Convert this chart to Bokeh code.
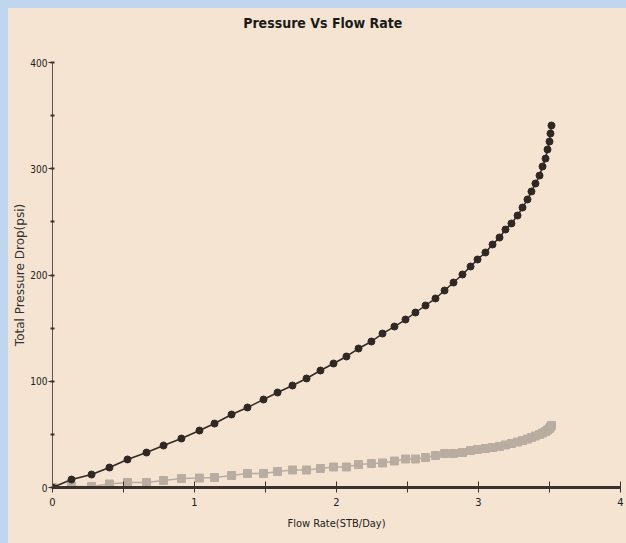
from bokeh.plotting import figure
from bokeh.layouts import column
from bokeh.embed import file_html
from bokeh.resources import INLINE
from bokeh.core.properties import value
from bokeh.models import SingleIntervalTicker, FixedTicker, ColumnDataSource

# Flow rate (STB/Day)
flow_rate = [0.0, 0.134, 0.275, 0.401, 0.528, 0.662, 0.782, 0.908, 1.035, 1.141,
             1.261, 1.373, 1.486, 1.585, 1.690, 1.789, 1.887, 1.979, 2.070, 2.155,
             2.246, 2.324, 2.408, 2.486, 2.556, 2.627, 2.697, 2.761, 2.824, 2.887,
             2.944, 2.993, 3.049, 3.099, 3.148, 3.190, 3.232, 3.275, 3.310, 3.345,
             3.373, 3.401, 3.430, 3.451, 3.472, 3.486, 3.500, 3.507, 3.514]
# Total pressure drop (psi), dark series
total_dp = [0.0, 7.5, 12.2, 18.8, 26.4, 32.9, 39.5, 46.1, 53.6, 60.2,
            68.7, 75.3, 82.8, 89.4, 96.0, 102.6, 110.1, 116.7, 123.3, 130.8,
            137.4, 144.9, 151.5, 158.1, 164.7, 171.3, 177.9, 185.4, 192.9, 200.5,
            208.0, 214.6, 221.2, 228.7, 235.3, 242.8, 248.5, 256.0, 263.5, 271.1,
            278.6, 286.1, 293.6, 302.1, 309.6, 318.1, 325.6, 333.2, 340.7]
# Second (light) series
light_dp = [0.0, 1.0, 1.0, 3.3, 4.7, 4.7, 6.6, 8.5, 8.9, 9.4,
            11.3, 13.2, 13.2, 15.1, 16.5, 16.5, 17.9, 19.3, 19.3, 21.6,
            22.6, 23.1, 24.9, 26.8, 26.8, 28.2, 30.1, 32.0, 32.0, 32.9,
            34.8, 35.8, 36.7, 37.6, 38.6, 40.0, 41.4, 42.8, 44.2, 45.6,
            47.1, 48.5, 49.9, 51.3, 52.7, 54.1, 55.5, 56.9, 58.4]

x_ticks = [0, 0.5, 1, 1.5, 2, 2.5, 3, 3.5, 4]
x_labels = {0: "0", 0.5: "", 1: "1", 1.5: "", 2: "2", 2.5: "", 3: "3", 3.5: "", 4: "4"}
title_text = ["Pressure Vs Flow Rate"]
x_title = "Flow Rate(STB/Day)"
y_title = "Total Pressure Drop(psi)"

BG = "#f5e4d1"
DARK = "#2f2824"
LIGHT = "#b9ada1"
NARROW = "'DejaVu Sans Condensed', 'Liberation Sans', sans-serif"

W = 618
TH = 44

# ---- title strip ----
t = figure(width=W, height=TH, x_range=(0, W), y_range=(0, TH),
           output_backend="svg", toolbar_location=None,
           x_axis_location=None, y_axis_location=None, min_border=0)
t.background_fill_color = BG
t.border_fill_color = BG
t.outline_line_color = None
t.grid.visible = False
t.text(x=[294], y=[TH - 14], text=title_text,
       text_align="center", text_baseline="middle",
       text_font=value(NARROW), text_font_style="bold", text_font_size="14px",
       text_color="#1a1a1a")

# ---- main chart ----
src = ColumnDataSource(dict(x=flow_rate, a=total_dp, b=light_dp))

p = figure(frame_width=568, frame_height=425,
           min_border_left=44, min_border_right=6, min_border_top=10, min_border_bottom=56,
           x_range=(0, 4), y_range=(0, 400),
           output_backend="svg", toolbar_location=None)

p.background_fill_color = BG
p.border_fill_color = BG
p.outline_line_color = None
p.grid.visible = False

xa = p.xaxis[0]
xa.ticker = FixedTicker(ticks=x_ticks)
xa.major_label_overrides = x_labels
xa.axis_line_width = 3
xa.axis_line_color = "#3a322d"
xa.major_tick_in = 6
xa.major_tick_out = 5
xa.major_tick_line_color = "#3a322d"
xa.major_tick_line_width = 1
xa.minor_tick_line_color = None
xa.major_label_text_font = NARROW
xa.major_label_text_font_size = "11px"
xa.major_label_text_color = "#222222"
xa.major_label_standoff = 5
xa.axis_label = x_title
xa.axis_label_text_font = NARROW
xa.axis_label_text_font_style = "normal"
xa.axis_label_text_font_size = "11px"
xa.axis_label_text_color = "#222222"
xa.axis_label_standoff = 8

ya = p.yaxis[0]
ya.ticker = SingleIntervalTicker(interval=100, num_minor_ticks=2)
ya.axis_line_color = "#5a524c"
ya.axis_line_width = 1
ya.major_tick_in = 0
ya.major_tick_out = 4
ya.major_tick_line_color = "#3a322d"
ya.minor_tick_in = 2
ya.minor_tick_out = 2
ya.minor_tick_line_color = "#3a322d"
ya.minor_tick_line_width = 2
ya.major_label_text_font = NARROW
ya.major_label_text_font_size = "10px"
ya.major_label_text_color = "#222222"
ya.major_label_standoff = 1
ya.axis_label = y_title
ya.axis_label_text_font = "'DejaVu Sans', sans-serif"
ya.axis_label_text_font_style = "normal"
ya.axis_label_text_font_size = "12px"
ya.axis_label_text_color = "#333333"
ya.axis_label_standoff = 0

p.line("x", "b", source=src, line_color=LIGHT, line_width=1.5)
p.scatter("x", "b", source=src, marker="square", size=8, fill_color=LIGHT, line_color=LIGHT)
p.line("x", "a", source=src, line_color=DARK, line_width=1.5)
p.scatter("x", "a", source=src, marker="circle", size=7, fill_color=DARK, line_color=DARK)

layout = column(t, p, spacing=0, styles={"background-color": BG})

template = """{% block postamble %}<style>html, body {margin:0; padding:0;} body{margin:8px 0 0 8px; background:#bfd6ee;}</style>{% endblock %}"""
open("out.html", "w").write(file_html(layout, INLINE, template=template))
